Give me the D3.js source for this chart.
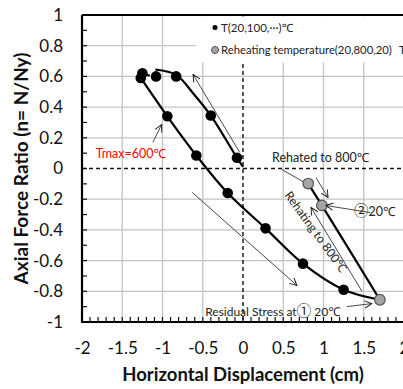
<!DOCTYPE html>
<html>
<head>
<meta charset="utf-8">
<script src="https://cdn.jsdelivr.net/npm/d3@7"></script>
<style>
	body{margin:0;background:#fff;}
	text{font-family:Lato,"Noto Sans",sans-serif;}
</style>
</head>
<body>
<div id="chart"></div>
<script>
// ------------------------------------------ DATA ------------------------------------------
// loading path from residual state back to Tmax (black curve, lower branch)
var LOAD_X = [1.70, 1.25, 0.745, 0.28, -0.19, -0.58, -0.94, -1.27];
var LOAD_Y = [-0.855, -0.79, -0.62, -0.39, -0.16, 0.085, 0.34, 0.59];
// cooling path from Tmax (upper branch)
var COOL_X = [-1.09, -0.83, -0.62, -0.40, -0.075, 0.0];
var COOL_Y = [0.645, 0.61, 0.49, 0.345, 0.07, 0.01];
// short bit at the top left
var TOP_X = [-1.25, -1.16];
var TOP_Y = [0.62, 0.605];
// reheating path (residual -> 800 -> 20)
var REHEAT_X = [1.70, 0.98, 0.81];
var REHEAT_Y = [-0.855, -0.24, -0.098];

// markers: T(20,100,...)
var DOT_X = [-1.25, -1.27, -1.08, -0.83, -0.40, -0.075, -0.94, -0.58, -0.19, 0.28, 0.745, 1.25];
var DOT_Y = [0.62, 0.59, 0.60, 0.60, 0.345, 0.07, 0.34, 0.085, -0.16, -0.39, -0.62, -0.79];
// markers: reheating temperature (20,800,20)
var GRAY_X = [1.70, 0.81, 0.98];
var GRAY_Y = [-0.855, -0.098, -0.24];

// ticks
var X_TICKS = [-2, -1.5, -1, -0.5, 0, 0.5, 1, 1.5, 2];
var Y_TICKS = [-1, -0.8, -0.6, -0.4, -0.2, 0, 0.2, 0.4, 0.6, 0.8, 1];

// thin annotation arrows [x1,y1,x2,y2,head]
var ARROWS = [
	[-0.04, 0.104, -0.62, 0.612, 1],
	[-0.63, -0.156, 0.67, -0.762, 1],
	[-1.12, 0.17, -1.01, 0.287, 1],
	[0.48, -0.006, 0.745, -0.085, 0],
	[0.907, -0.059, 1.056, -0.189, 1],
	[1.578, -0.287, 1.03, -0.241, 1],
	[1.478, -0.80, 0.845, -0.254, 1],
	[1.29, -0.90, 1.60, -0.88, 1]
];

var WIDTH = 403, HEIGHT = 389;
var PLOT_LEFT = 82, PLOT_RIGHT = 404, PLOT_TOP = 15, PLOT_BOTTOM = 322;
var CJK = "'Noto Sans CJK JP',sans-serif";

var svg = d3.select("#chart").append("svg")
	.attr("width", WIDTH)
	.attr("height", HEIGHT)
	.style("display", "block");

svg.append("rect").attr("width", WIDTH).attr("height", HEIGHT).attr("fill", "#fff");

var x = d3.scaleLinear().domain([-2, 2]).range([PLOT_LEFT, PLOT_RIGHT]);
var y = d3.scaleLinear().domain([-1, 1]).range([PLOT_BOTTOM, PLOT_TOP]);

var defs = svg.append("defs");
defs.append("marker")
	.attr("id", "head")
	.attr("viewBox", "0 0 10 10")
	.attr("refX", 9).attr("refY", 5)
	.attr("markerWidth", 9).attr("markerHeight", 9)
	.attr("markerUnits", "userSpaceOnUse")
	.attr("orient", "auto")
	.append("path")
	.attr("d", "M1,1 L9,5 L1,9")
	.attr("fill", "none")
	.attr("stroke", "#222")
	.attr("stroke-width", 1.1);

drawGrid();
drawAxes();
drawCurves();
drawLegend();
drawNotes();

// ------------------------------------------ GRID ------------------------------------------
function drawGrid(){
	var g = svg.append("g").attr("id", "grid");
	g.selectAll("line.v").data(X_TICKS.filter(function(d){ return d != 0 && d > -2; }))
		.enter().append("line")
		.attr("x1", function(d){ return x(d); }).attr("x2", function(d){ return x(d); })
		.attr("y1", PLOT_TOP).attr("y2", PLOT_BOTTOM)
		.attr("stroke", "#c4c4c4").attr("stroke-width", 1.3);
	g.selectAll("line.h").data(Y_TICKS.filter(function(d){ return d != 0 && d > -1 && d < 1; }))
		.enter().append("line")
		.attr("x1", PLOT_LEFT).attr("x2", PLOT_RIGHT)
		.attr("y1", function(d){ return y(d); }).attr("y2", function(d){ return y(d); })
		.attr("stroke", "#c4c4c4").attr("stroke-width", 1.3);

	// dashed zero lines
	g.append("line")
		.attr("x1", PLOT_LEFT).attr("x2", PLOT_RIGHT)
		.attr("y1", y(0)).attr("y2", y(0))
		.attr("stroke", "#111").attr("stroke-width", 1.4).attr("stroke-dasharray", "4,3");
	g.append("line")
		.attr("x1", x(0)).attr("x2", x(0))
		.attr("y1", PLOT_TOP).attr("y2", PLOT_BOTTOM)
		.attr("stroke", "#111").attr("stroke-width", 1.4).attr("stroke-dasharray", "4,3");
}

// ------------------------------------------ AXES ------------------------------------------
function drawAxes(){
	var xAxis = d3.axisBottom(x).tickValues(X_TICKS).tickSize(0).tickPadding(20)
		.tickFormat(function(d){ return String(d); });
	var gx = svg.append("g").attr("transform", "translate(0," + PLOT_BOTTOM + ")").call(xAxis);
	gx.select(".domain").remove();
	gx.selectAll("text").style("font-size", "17px").attr("fill", "#111")
		.style("font-family", "Lato,sans-serif");

	var yAxis = d3.axisLeft(y).tickValues(Y_TICKS).tickSize(0).tickPadding(19)
		.tickFormat(function(d){ return String(d); });
	var gy = svg.append("g").attr("transform", "translate(" + PLOT_LEFT + ",0)").call(yAxis);
	gy.select(".domain").remove();
	gy.selectAll("text").style("font-size", "17px").attr("fill", "#111")
		.style("font-family", "Lato,sans-serif");

	// minor ticks (inside)
	var minorX = d3.range(-20, 21).map(function(i){ return i / 10; });
	svg.append("g").selectAll("line").data(minorX).enter().append("line")
		.attr("x1", function(d){ return x(d); }).attr("x2", function(d){ return x(d); })
		.attr("y1", PLOT_BOTTOM).attr("y2", PLOT_BOTTOM - 5)
		.attr("stroke", "#111").attr("stroke-width", 1.2);
	var minorY = d3.range(-10, 11).map(function(i){ return i / 10; });
	svg.append("g").selectAll("line").data(minorY).enter().append("line")
		.attr("x1", PLOT_LEFT).attr("x2", PLOT_LEFT + 5)
		.attr("y1", function(d){ return y(d); }).attr("y2", function(d){ return y(d); })
		.attr("stroke", "#111").attr("stroke-width", 1.2);

	// frame
	svg.append("line").attr("x1", PLOT_LEFT).attr("x2", PLOT_LEFT)
		.attr("y1", PLOT_TOP).attr("y2", PLOT_BOTTOM + 1)
		.attr("stroke", "#000").attr("stroke-width", 2.2);
	svg.append("line").attr("x1", PLOT_LEFT).attr("x2", PLOT_RIGHT)
		.attr("y1", PLOT_BOTTOM).attr("y2", PLOT_BOTTOM)
		.attr("stroke", "#000").attr("stroke-width", 2.2);
	svg.append("line").attr("x1", PLOT_LEFT).attr("x2", PLOT_RIGHT)
		.attr("y1", PLOT_TOP).attr("y2", PLOT_TOP)
		.attr("stroke", "#000").attr("stroke-width", 2);

	svg.append("text")
		.text("Horizontal Displacement (cm)")
		.attr("x", x(0)).attr("y", 381)
		.style("text-anchor", "middle").style("font-size", "18.5px").style("font-weight", "bold")
		.attr("fill", "#111");
	svg.append("text")
		.text("Axial Force Ratio (n= N/Ny)")
		.attr("transform", "translate(28," + y(0) + ") rotate(-90)")
		.style("text-anchor", "middle").style("font-size", "19px").style("font-weight", "bold")
		.attr("fill", "#111");
}

// ------------------------------------------ CURVES ------------------------------------------
function drawCurves(){
	var line = d3.line()
		.x(function(d){ return x(d[0]); })
		.y(function(d){ return y(d[1]); })
		.curve(d3.curveCatmullRom.alpha(0.5));

	var paths = [
		d3.zip(LOAD_X, LOAD_Y),
		d3.zip(COOL_X, COOL_Y),
		d3.zip(TOP_X, TOP_Y),
		d3.zip(REHEAT_X, REHEAT_Y)
	];
	svg.append("g").selectAll("path").data(paths).enter().append("path")
		.attr("d", line)
		.attr("fill", "none").attr("stroke", "#000").attr("stroke-width", 2.2);

	svg.append("g").selectAll("circle").data(d3.zip(DOT_X, DOT_Y)).enter().append("circle")
		.attr("cx", function(d){ return x(d[0]); })
		.attr("cy", function(d){ return y(d[1]); })
		.attr("r", 5.3).attr("fill", "#000");

	svg.append("g").selectAll("circle").data(d3.zip(GRAY_X, GRAY_Y)).enter().append("circle")
		.attr("cx", function(d){ return x(d[0]); })
		.attr("cy", function(d){ return y(d[1]); })
		.attr("r", 5.3).attr("fill", "#a5a5a5").attr("stroke", "#555").attr("stroke-width", 1.2);
}

// ------------------------------------------ LEGEND ------------------------------------------
function drawLegend(){
	var g = svg.append("g").attr("id", "legend");
	g.append("rect").attr("x", 196).attr("y", PLOT_TOP + 1.5)
		.attr("width", WIDTH - 196).attr("height", 46).attr("fill", "#fff");

	g.append("circle").attr("cx", 215).attr("cy", 27.5).attr("r", 2.5).attr("fill", "#000");
	g.append("text").text("T(20,100,\u00b7\u00b7\u00b7)\u2103")
		.attr("x", 221).attr("y", 31.5).style("font-size", "11.5px").attr("fill", "#222");

	g.append("circle").attr("cx", 215).attr("cy", 50).attr("r", 3.5)
		.attr("fill", "#a5a5a5").attr("stroke", "#555").attr("stroke-width", 1);
	g.append("text").text("Reheating temperature(20,800,20)")
		.attr("x", 221).attr("y", 54).style("font-size", "11.3px").attr("fill", "#222");
	g.append("text").text("T")
		.attr("x", 399).attr("y", 54).style("font-size", "11.5px").attr("fill", "#222");
}

// ------------------------------------------ NOTES ------------------------------------------
function drawNotes(){
	var g = svg.append("g").attr("id", "notes");
	g.selectAll("line").data(ARROWS).enter().append("line")
		.attr("x1", function(d){ return x(d[0]); })
		.attr("y1", function(d){ return y(d[1]); })
		.attr("x2", function(d){ return x(d[2]); })
		.attr("y2", function(d){ return y(d[3]); })
		.attr("stroke", "#333").attr("stroke-width", 0.9)
		.attr("marker-end", function(d){ return d[4] ? "url(#head)" : null; });

	_drawNote(g, ["", "Tmax=600\u2103"], x(-1.83), y(0.07), "12.5px", "#ff0000", 0);
	_drawNote(g, ["", "Rehated to 800\u2103"], x(0.36), y(0.04), "12.5px", "#222", 0);
	_drawNote(g, ["\u2461", "20\u2103"], x(1.38), y(-0.31), "12.5px", "#222", 0);
	_drawNote(g, ["", "Residual Stress at", "\u2460", " 20\u2103"], x(-0.47), y(-0.96), "12px", "#222", 0);
	_drawNote(g, ["", "Rehating to 800\u2103"], x(0.51), y(-0.175), "12px", "#222", 54);
}

// parts at odd positions use latin font, circled digits use cjk font (a bit bigger)
function _drawNote(g, parts, px, py, size, color, angle){
	var t = g.append("text")
		.attr("transform", "translate(" + px + "," + py + ") rotate(" + angle + ")")
		.style("font-size", size)
		.attr("fill", color);
	parts.forEach(function(p, i){
		if (!p) return;
		var s = t.append("tspan").text(p);
		if (i % 2 == 0) s.style("font-family", CJK).style("font-size", "14.5px");
	});
}
</script>
</body>
</html>
